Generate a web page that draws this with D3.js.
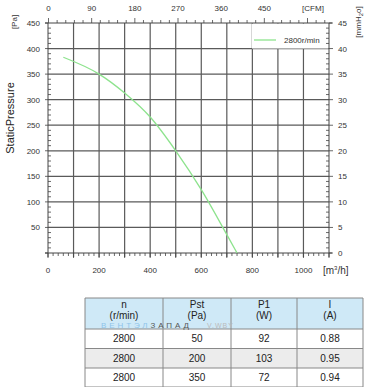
<!DOCTYPE html>
<html><head><meta charset="utf-8">
<script src="https://cdn.jsdelivr.net/npm/d3@7"></script>
<style>body{margin:0;background:#fff}svg{display:block;font-family:"Liberation Sans",Arial,sans-serif}</style>
</head><body><svg id="c" width="366" height="387"></svg>
<script>
// data
const flow = [60, 200, 300, 400, 500, 600, 700, 740];      // m3/h
const pressure = [383, 350, 313, 266, 200, 124, 36, 0];     // Pa
const seriesName = "2800r/min";
const bottomTicks = [0, 200, 400, 600, 800, 1000];
const leftTicks = [50, 100, 150, 200, 250, 300, 350, 400, 450];
const rightTicks = [0, 5, 10, 15, 20, 25, 30, 35, 40, 45];
const topTicks = [0, 90, 180, 270, 360, 450];
const tableHeader = [["n", "(r/min)"], ["Pst", "(Pa)"], ["P1", "(W)"], ["I", "(A)"]];
const tableRows = [["2800", "50", "92", "0.88"], ["2800", "200", "103", "0.95"], ["2800", "350", "72", "0.94"]];

const svg = d3.select("#c");
const L = 48, R = 329, T = 23, B = 253;
const x = d3.scaleLinear().domain([0, 1100]).range([L, R]);
const y = d3.scaleLinear().domain([0, 450]).range([B, T]);
const yr = d3.scaleLinear().domain([0, 45]).range([B, T]);
const xc = d3.scaleLinear().domain([0, 540]).range([48.5, 307.5]);

// grid
const g = svg.append("g");
g.selectAll(".vg").data(d3.range(100, 1100, 100)).join("line")
  .attr("x1", d => x(d)).attr("x2", d => x(d)).attr("y1", T).attr("y2", B + 4)
  .attr("stroke", "#5a5a5a").attr("stroke-width", 1.2);
g.selectAll(".hg").data(d3.range(50, 450, 50)).join("line")
  .attr("y1", d => y(d)).attr("y2", d => y(d)).attr("x1", L).attr("x2", R)
  .attr("stroke", "#5a5a5a").attr("stroke-width", 1.2);

// legend box covering grid
svg.append("rect").attr("x", 252).attr("y", T + 0.5).attr("width", R - 252 - 0.5).attr("height", 25).attr("fill", "#fff");

// frame lines
const ax = svg.append("g").attr("stroke", "#444").attr("stroke-width", 1);
ax.append("line").attr("x1", L).attr("x2", L).attr("y1", T).attr("y2", B + 4);
ax.append("line").attr("x1", R).attr("x2", R).attr("y1", T).attr("y2", B + 4);
ax.append("line").attr("x1", L - 3).attr("x2", R + 3).attr("y1", B).attr("y2", B);
ax.append("line").attr("x1", L - 3).attr("x2", R + 3).attr("y1", T).attr("y2", T);

// minor ticks
const tk = svg.append("g").attr("stroke", "#444").attr("stroke-width", 0.8);
d3.range(0, 1101, 20).forEach(v => {
  const major = v % 100 === 0;
  tk.append("line").attr("x1", x(v)).attr("x2", x(v)).attr("y1", B).attr("y2", B + (major ? 5 : 3));
});
d3.range(0, 451, 10).forEach(v => {
  if (v % 50 === 0) tk.append("line").attr("x1", L - 3).attr("x2", L).attr("y1", y(v)).attr("y2", y(v));
  else tk.append("line").attr("x1", L).attr("x2", L + 3).attr("y1", y(v)).attr("y2", y(v));
});
d3.range(0, 46, 1).forEach(v => {
  if (v % 5 === 0) tk.append("line").attr("x1", R).attr("x2", R + 4).attr("y1", yr(v)).attr("y2", yr(v));
  else tk.append("line").attr("x1", R - 3).attr("x2", R).attr("y1", yr(v)).attr("y2", yr(v));
});
d3.range(0, 586, 18).forEach(v => {
  const major = v % 90 === 0;
  tk.append("line").attr("x1", xc(v)).attr("x2", xc(v)).attr("y1", T).attr("y2", T - (major ? 5 : 3));
});

// tick labels
const lab = svg.append("g").attr("font-size", 8).attr("fill", "#333");
bottomTicks.forEach(v => lab.append("text").attr("x", x(v)).attr("y", 273).attr("text-anchor", "middle").text(v));
leftTicks.forEach(v => lab.append("text").attr("x", 40).attr("y", y(v) + 3).attr("text-anchor", "end").text(v));
rightTicks.forEach(v => lab.append("text").attr("x", 338).attr("y", yr(v) + 3).text(v));
topTicks.forEach(v => lab.append("text").attr("x", xc(v)).attr("y", 11).attr("text-anchor", "middle").text(v));
lab.append("text").attr("x", 313).attr("y", 11).attr("text-anchor", "middle").text("[CFM]");

// axis titles
svg.append("text").attr("transform", "translate(14,118) rotate(-90)").attr("text-anchor", "middle")
  .attr("font-size", 11).attr("fill", "#222").text("StaticPressure");
svg.append("text").attr("transform", "translate(17,22) rotate(-90)").attr("text-anchor", "middle")
  .attr("font-size", 8).attr("fill", "#333").text("[Pa]");
const mm = svg.append("text").attr("transform", "translate(361,22) rotate(-90)").attr("text-anchor", "middle")
  .attr("font-size", 8).attr("fill", "#333");
mm.append("tspan").text("[mmH");
mm.append("tspan").attr("font-size", 6).attr("dy", 2).text("2");
mm.append("tspan").attr("dy", -2).text("o]");
const m3 = svg.append("text").attr("x", 323).attr("y", 274).attr("font-size", 10).attr("fill", "#333");
m3.append("tspan").text("[m");
m3.append("tspan").attr("font-size", 6).attr("dy", -4).text("3");
m3.append("tspan").attr("dy", 4).text("/h]");

// curve
const pts = flow.map((f, i) => [f, pressure[i]]);
svg.append("path").datum(pts)
  .attr("d", d3.line().x(d => x(d[0])).y(d => y(d[1])).curve(d3.curveMonotoneX))
  .attr("fill", "none").attr("stroke", "#8de38d").attr("stroke-width", 1.3);

// legend
svg.append("line").attr("x1", 254).attr("x2", 276).attr("y1", 40).attr("y2", 40).attr("stroke", "#8de38d").attr("stroke-width", 1.3);
svg.append("text").attr("x", 284).attr("y", 43).attr("font-size", 8).attr("fill", "#333").text(seriesName);

// table
const cols = [85, 163, 231, 297, 363];
const rowsY = [298, 329, 348.5, 368, 387];
const tb = svg.append("g");
tb.append("rect").attr("x", cols[0]).attr("y", rowsY[0]).attr("width", cols[4] - cols[0]).attr("height", rowsY[1] - rowsY[0]).attr("fill", "#cfe9f7");
tb.append("rect").attr("x", cols[0]).attr("y", rowsY[2]).attr("width", cols[4] - cols[0]).attr("height", rowsY[3] - rowsY[2]).attr("fill", "#ececec");
rowsY.forEach(yy => tb.append("line").attr("x1", cols[0]).attr("x2", cols[4]).attr("y1", yy).attr("y2", yy).attr("stroke", "#888"));
cols.forEach(xx => tb.append("line").attr("x1", xx).attr("x2", xx).attr("y1", rowsY[0]).attr("y2", rowsY[4]).attr("stroke", "#888"));
tableHeader.forEach((h, i) => {
  const cx = (cols[i] + cols[i + 1]) / 2;
  tb.append("text").attr("x", cx).attr("y", 308).attr("text-anchor", "middle").attr("font-size", 10).attr("fill", "#222").text(h[0]);
  tb.append("text").attr("x", cx).attr("y", 318.5).attr("text-anchor", "middle").attr("font-size", 10).attr("fill", "#222").text(h[1]);
});
tableRows.forEach((r, j) => r.forEach((v, i) => {
  const cx = (cols[i] + cols[i + 1]) / 2;
  tb.append("text").attr("x", cx).attr("y", (rowsY[j + 1] + rowsY[j + 2]) / 2 + 3.5).attr("text-anchor", "middle")
    .attr("font-size", 10).attr("fill", "#222").text(v);
}));

// watermark
const wm = svg.append("text").attr("x", 101).attr("y", 327.5).attr("font-size", 8).attr("letter-spacing", 2.9);
wm.append("tspan").attr("fill", "#8fc4ea").text("ВЕНТЭЛ");
wm.append("tspan").attr("fill", "#555").text("ЗАПАД");
svg.append("text").attr("x", 207).attr("y", 327.5).attr("font-size", 7).attr("letter-spacing", 1).attr("fill", "#bbb").text("V.WBY");
</script></body></html>
